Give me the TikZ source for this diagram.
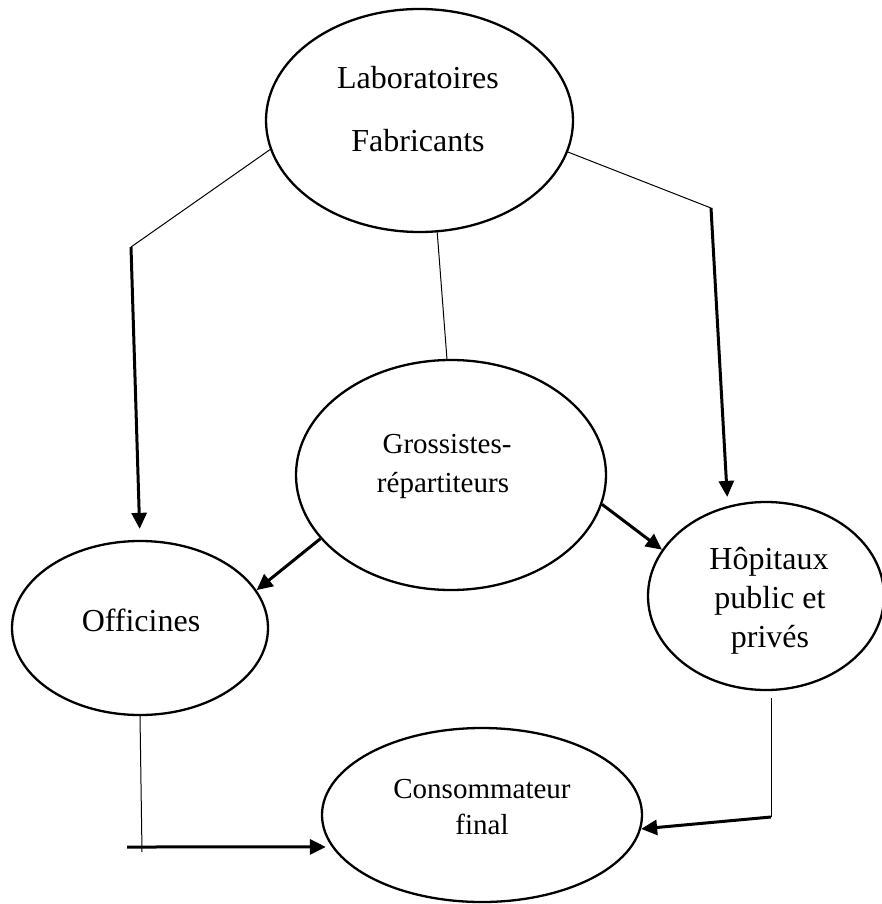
\documentclass[tikz,border=0pt]{standalone}
\usepackage{fontspec}
\setmainfont{Liberation Serif}
\usetikzlibrary{shapes.geometric,arrows.meta}
\begin{document}
\begin{tikzpicture}[x=1pt,y=-1pt,
  bubble/.style={ellipse,draw,line width=2.3pt,inner sep=0pt},
  big/.style={font=\fontsize{32}{38}\selectfont,inner sep=0pt,anchor=base},
  small/.style={font=\fontsize{29}{35}\selectfont,inner sep=0pt,anchor=base},
  link/.style={line width=1pt},
  flow/.style={line width=3pt,-{Triangle[length=16pt,width=15pt]}},
]
\useasboundingbox (0,0) rectangle (882,904);

% actors of the distribution chain
\node[bubble,minimum width=307pt,minimum height=223pt] (lab)  at (419.5,120.5) {};
\node[bubble,minimum width=310pt,minimum height=230pt] (gros) at (451,475) {};
\node[bubble,minimum width=256pt,minimum height=174pt] (off)  at (140,628) {};
\node[bubble,minimum width=236pt,minimum height=188pt] (hop)  at (766,596) {};
\node[bubble,minimum width=320pt,minimum height=174pt] (cons) at (482,815) {};

% labels
\node[big]   (labA)  at (418,89)  {Laboratoires};
\node[big]   (labB)  at (418,152) {Fabricants};
\node[small] (grosA) at (447,453) {Grossistes-};
\node[small] (grosB) at (443,492) {répartiteurs};
\node[big]   (offA)  at (141,631) {Officines};
\node[big]   (hopA)  at (769,569) {Hôpitaux};
\node[big]   (hopB)  at (770,608) {public et};
\node[big]   (hopC)  at (770,647) {privés};
\node[small] (consA) at (482,798) {Consommateur};
\node[small] (consB) at (482,834) {final};

% bend points
\coordinate (kL) at (131,247);
\coordinate (kR) at (711,208);
\coordinate (kOff) at (142,852);
\coordinate (kOffStart) at (127,847);
\coordinate (kHop) at (771,698);
\coordinate (kHopEnd) at (771,817);

% flows
\draw[link] (lab.191.5) -- (kL);
\draw[flow,shorten >=11pt] (kL) -- (off.north);
\draw[link] (lab.348) -- (kR);
\draw[flow,shorten >=9pt] (kR) -- (hop.113.7);
\draw[link] (lab.279.5) -- (gros.92);
\draw[flow] (gros.206.6) -- (off.18.3);
\draw[flow] (gros.349.6) -- (hop.156.8);
\draw[link] (off.south) -- (kOff);
\draw[flow,shorten >=6pt] (kOffStart) -- (cons.192.4);
\draw[link] (kHop) -- (kHopEnd);
\draw[flow] (kHopEnd) -- (cons.355.7);
\end{tikzpicture}
\end{document}
